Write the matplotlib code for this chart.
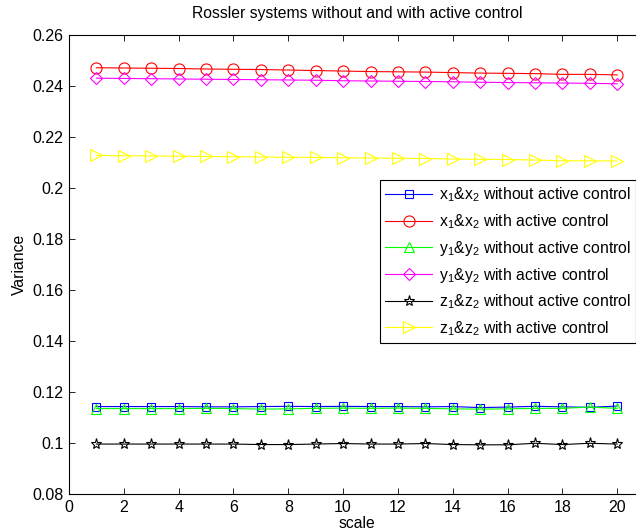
import matplotlib
matplotlib.use("Agg")
import matplotlib.pyplot as plt

plt.rcParams['font.family'] = ['Liberation Sans', 'DejaVu Sans']
plt.rcParams['mathtext.default'] = 'regular'

scale = list(range(1, 21))

x_without = [0.1143, 0.1143, 0.1143, 0.1143, 0.1142, 0.1142, 0.1143, 0.1144, 0.1143, 0.1144,
             0.1143, 0.1143, 0.1142, 0.1143, 0.1139, 0.1141, 0.1144, 0.1142, 0.1140, 0.1145]
x_with = [0.2472, 0.2471, 0.2470, 0.2469, 0.2467, 0.2466, 0.2465, 0.2463, 0.2461, 0.2459,
          0.2457, 0.2456, 0.2455, 0.2453, 0.2451, 0.2450, 0.2449, 0.2446, 0.2446, 0.2444]
y_without = [0.1135, 0.1135, 0.1135, 0.1135, 0.1136, 0.1135, 0.1133, 0.1134, 0.1136, 0.1137,
             0.1136, 0.1137, 0.1136, 0.1134, 0.1133, 0.1134, 0.1136, 0.1136, 0.1141, 0.1136]
y_with = [0.2431, 0.2430, 0.2429, 0.2428, 0.2427, 0.2426, 0.2425, 0.2424, 0.2423, 0.2421,
          0.2420, 0.2419, 0.2418, 0.2417, 0.2415, 0.2414, 0.2413, 0.2412, 0.2411, 0.2409]
z_without = [0.0996, 0.0996, 0.0996, 0.0996, 0.0996, 0.0996, 0.0994, 0.0994, 0.0996, 0.0998,
             0.0996, 0.0996, 0.0998, 0.0994, 0.0993, 0.0993, 0.0999, 0.0994, 0.0999, 0.0996]
z_with = [0.2128, 0.2127, 0.2126, 0.2125, 0.2124, 0.2123, 0.2122, 0.2121, 0.2120, 0.2119,
          0.2118, 0.2117, 0.2116, 0.2114, 0.2113, 0.2112, 0.2110, 0.2107, 0.2107, 0.2106]

labels = [
    r'x$_1$&x$_2$ without active control',
    r'x$_1$&x$_2$ with active control',
    r'y$_1$&y$_2$ without active control',
    r'y$_1$&y$_2$ with active control',
    r'z$_1$&z$_2$ without active control',
    r'z$_1$&z$_2$ with active control',
]
series = [x_without, x_with, y_without, y_with, z_without, z_with]
colors = ['#0000ff', '#ff0000', '#00ff00', '#ff00ff', '#000000', '#ffff00']
markers = ['s', 'o', '^', 'D', '*', '>']
msizes = [6, 8, 7, 6, 8, 8]

fig = plt.figure(figsize=(6.36, 5.32), dpi=100)
ax = fig.add_axes([0.1085, 0.0714, 0.905, 0.8626])

for vals, lab, c, m, ms in zip(series, labels, colors, markers, msizes):
    ax.plot(scale, vals, color=c, marker=m, markersize=ms, markerfacecolor='none',
            markeredgecolor=c, markeredgewidth=0.8, linewidth=0.8, label=lab)

ax.set_xlim(0, 21)
ax.set_ylim(0.08, 0.26)
ax.set_xticks(range(0, 21, 2))
ax.set_yticks([0.08, 0.1, 0.12, 0.14, 0.16, 0.18, 0.2, 0.22, 0.24, 0.26])
ax.set_yticklabels(['0.08', '0.1', '0.12', '0.14', '0.16', '0.18', '0.2', '0.22', '0.24', '0.26'])
ax.tick_params(direction='in', top=True, right=True, labelsize=11.5, length=4, width=0.6, pad=4)
for sp in ax.spines.values():
    sp.set_linewidth(0.8)

ax.set_title('Rossler systems without and with active control', fontsize=11.3, pad=12)
ax.set_xlabel('scale', fontsize=11.3, labelpad=1)
ax.set_ylabel('Variance', fontsize=11.3, labelpad=4)

leg = ax.legend(loc='upper left', bbox_to_anchor=(0.54, 0.684), fontsize=11.3,
                frameon=True, fancybox=False, edgecolor='black', framealpha=1,
                handlelength=3.0, handletextpad=0.4, borderaxespad=0, labelspacing=0.5,
                borderpad=0.35)
leg.get_frame().set_linewidth(0.8)

fig.savefig('out.png', dpi=100)
